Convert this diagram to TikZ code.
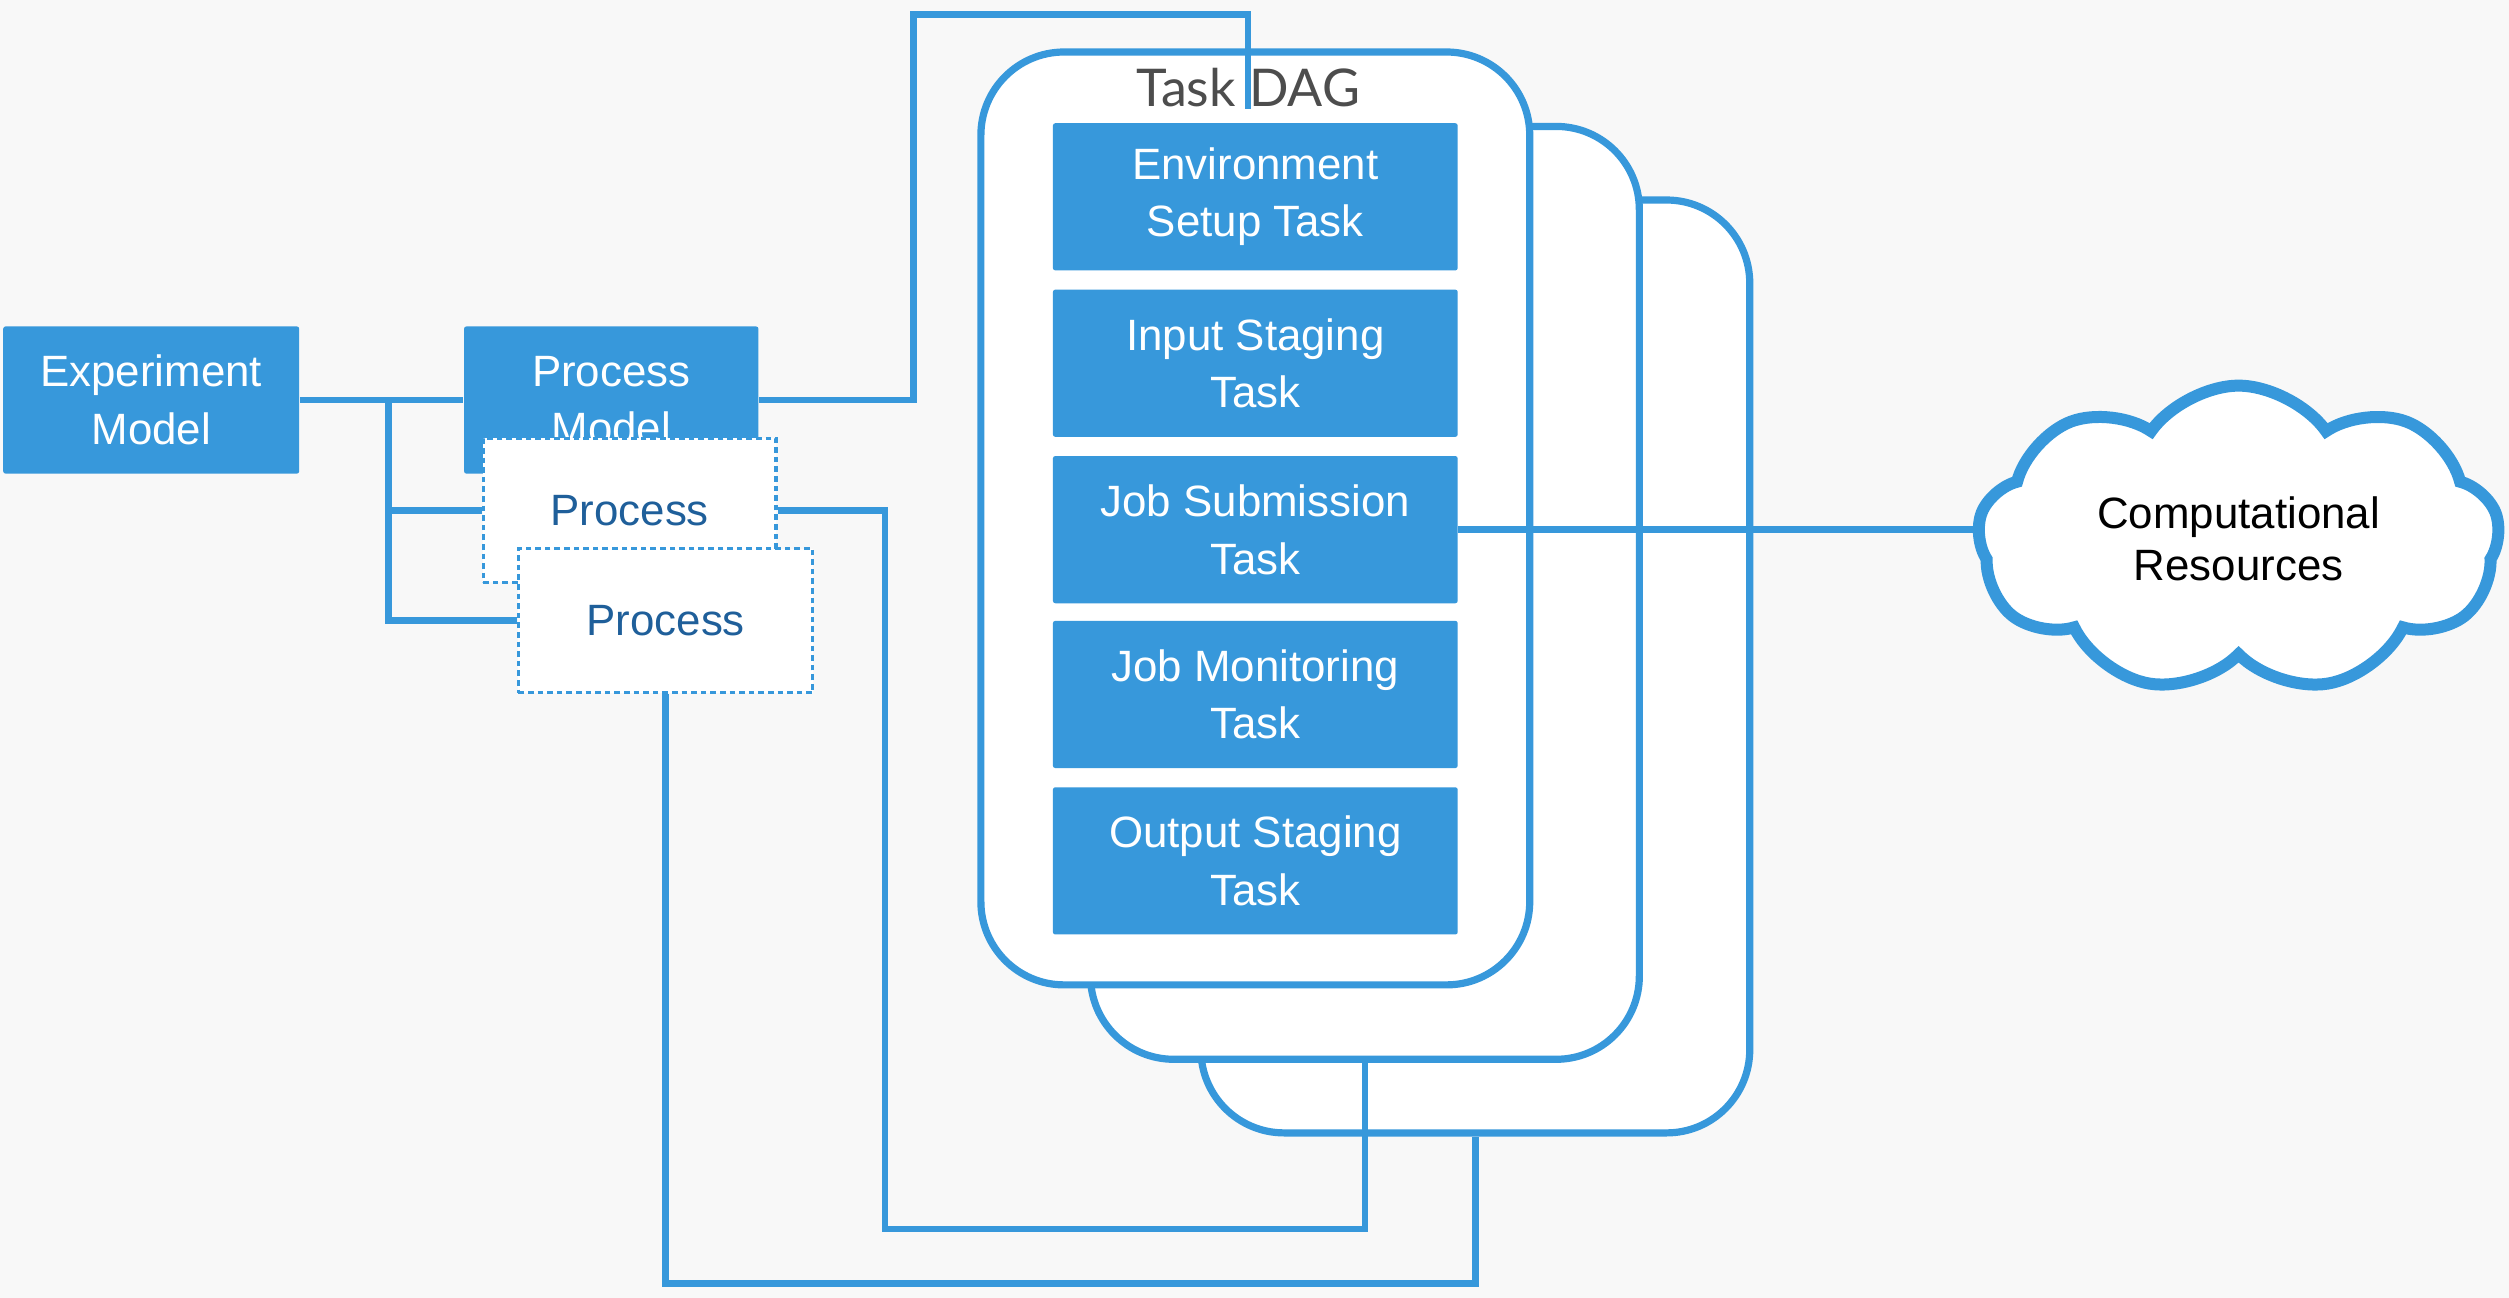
\documentclass[tikz,border=0pt]{standalone}
\usepackage{fontspec}
\setmainfont{Liberation Sans}
\newfontfamily\latofont{Lato}
\usetikzlibrary{shapes.symbols}
\definecolor{myblue}{HTML}{3798DB}
\definecolor{procblue}{HTML}{1F5F9A}
\definecolor{bgcol}{HTML}{F8F8F8}
\definecolor{titlegray}{HTML}{4D4D4D}
\newlength\pu
\setlength\pu{0.02cm}
\begin{document}
\begin{tikzpicture}[x=0.02cm,y=-0.02cm,
  bluebox/.style={fill=myblue, draw=none, rounded corners=1.5\pu, text=white, align=center, inner sep=0pt,
    font=\fontsize{15.6pt}{20.5pt}\selectfont},
  taskbox/.style={bluebox, minimum width=253\pu, minimum height=92\pu},
  procbox/.style={fill=white, draw=myblue, dash pattern=on 3.5\pu off 2.5\pu, line width=2\pu, text=procblue,
    align=center, inner sep=0pt, minimum width=183\pu, minimum height=90\pu,
    font=\fontsize{15.6pt}{20.5pt}\selectfont},
  card/.style={fill=white, draw=myblue, line width=4.5\pu, rounded corners=52\pu, inner sep=0pt,
    minimum width=343\pu, minimum height=583\pu},
  conn/.style={draw=myblue, line width=4.2\pu}
]
\fill[bgcol] (0,0) rectangle (1568,811);
\useasboundingbox (0,0) rectangle (1568,811);

% cards
\node[card] (card3) at (922,416.5) {};
\node[card] (card2) at (853,370.5) {};
\node[card] (card1) at (784.5,324) {};
\node[font=\latofont\fontsize{18.5pt}{22pt}\selectfont, text=titlegray, inner sep=0pt] (dagtitle) at (780,55) {Task DAG};

% tasks
\node[taskbox] (t1) at (784.5,123) {Environment\\Setup Task};
\node[taskbox] (t2) at (784.5,227) {Input Staging\\Task};
\node[taskbox] (t3) at (784.5,331) {Job Submission\\Task};
\node[taskbox] (t4) at (784.5,434) {Job Monitoring\\Task};
\node[taskbox] (t5) at (784.5,538) {Output Staging\\Task};

% models
\node[bluebox, minimum width=185\pu, minimum height=92\pu] (exp) at (94.5,250) {Experiment\\Model};
\node[bluebox, minimum width=184\pu, minimum height=92\pu] (pm) at (382,250) {Process\\Model};
\node[procbox] (p1) at (393.5,319) {Process};
\node[procbox, minimum width=184\pu] (p2) at (416,388) {Process};

% connectors
\coordinate (br) at (243,250);
\draw[conn] (exp.east) -- (pm.west);
\draw[conn] (br) |- (p1.west);
\draw[conn] (br) |- (p2.west);

\coordinate (up1) at (571,9);
\coordinate (dagpt) at (780,68);
\draw[conn] (pm.east) -| (up1) -| (dagpt);

\coordinate (c1) at (553,768);
\draw[conn] (p1.east) -| (c1) -| (card2.south);
\coordinate (c2) at (416,802);
\draw[conn] (p2.south) -- (c2) -| (card3.south);

% cloud
\node[cloud, cloud puffs=9, cloud puff arc=110, aspect=1.7, draw=myblue, fill=white, line width=7.5\pu,
  minimum width=326\pu, minimum height=192\pu, align=center, inner sep=0pt,
  font=\fontsize{15.6pt}{18.5pt}\selectfont] (cloud) at (1399,337) {Computational\\Resources};
\draw[conn] (t3.east) -- (cloud.west |- t3.east);
\end{tikzpicture}
\end{document}
